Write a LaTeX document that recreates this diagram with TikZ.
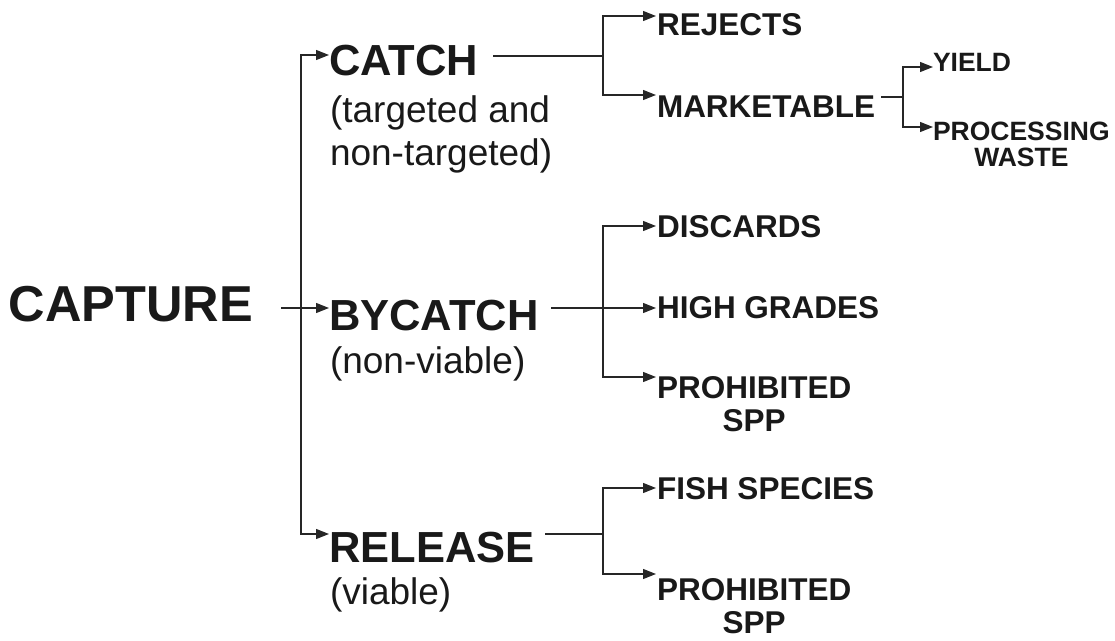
\documentclass[tikz,border=0pt]{standalone}
\usepackage{fontspec}
\setmainfont{Liberation Sans}
\usetikzlibrary{arrows.meta}
\begin{document}
\begin{tikzpicture}[x=1pt,y=-1pt,
  every node/.style={inner sep=0pt,outer sep=0pt,text=black!90},
  lvlzero/.style={anchor=base west,font=\fontsize{50.5}{58}\selectfont\bfseries},
  lvlone/.style={anchor=base west,font=\fontsize{43.5}{50}\selectfont\bfseries},
  subtxt/.style={anchor=base west,font=\fontsize{37}{43}\selectfont},
  lvltwo/.style={anchor=base west,font=\fontsize{31.5}{36}\selectfont\bfseries},
  lvltwoc/.style={anchor=base,font=\fontsize{31.5}{36}\selectfont\bfseries},
  lvlthree/.style={anchor=base west,font=\fontsize{26.5}{30}\selectfont\bfseries},
  lvlthreec/.style={anchor=base,font=\fontsize{26.5}{30}\selectfont\bfseries},
  conn/.style={draw=black!85,line width=1.3pt},
  arr/.style={conn,-{Triangle[length=13pt,width=10pt]}}]
\useasboundingbox (0,0) rectangle (1115,640);

% level 0
\node[lvlzero] (capture) at (9,321) {CAPTURE};
% level 1
\node[lvlone] (catch) at (329,75) {CATCH};
\node[subtxt] (catchs1) at (330,122) {(targeted and};
\node[subtxt] (catchs2) at (330,165) {non-targeted)};
\node[lvlone] (bycatch) at (329,330) {BYCATCH};
\node[subtxt] (bycatchs) at (330,373) {(non-viable)};
\node[lvlone] (release) at (329,562) {RELEASE};
\node[subtxt] (releases) at (330,604) {(viable)};
% level 2
\node[lvltwo] (rejects) at (657,35) {REJECTS};
\node[lvltwo] (market) at (657,117) {MARKETABLE};
\node[lvltwo] (discards) at (657,237) {DISCARDS};
\node[lvltwo] (highgr) at (657,318) {HIGH GRADES};
\node[lvltwo] (prohiba) at (657,398) {PROHIBITED};
\node[lvltwoc] (sppa) at (prohiba.center |- 0,431) {SPP};
\node[lvltwo] (fish) at (657,499) {FISH SPECIES};
\node[lvltwo] (prohibb) at (657,600) {PROHIBITED};
\node[lvltwoc] (sppb) at (prohibb.center |- 0,633) {SPP};
% level 3
\node[lvlthree] (yield) at (933,71) {YIELD};
\node[lvlthree] (proc) at (933,140) {PROCESSING};
\node[lvlthreec] (waste) at (proc.center |- 0,166) {WASTE};

% connector coordinates
\coordinate (capend) at (281,308);
\coordinate (trunk) at (301,308);
\coordinate (tcatch) at (329,55);
\coordinate (tbycatch) at (329,308);
\coordinate (trelease) at (329,534);

\coordinate (catchend) at (493,56);
\coordinate (catchj) at (603,56);
\coordinate (trej) at (656,16);
\coordinate (tmkt) at (656,95);

\coordinate (mktend) at (881,97);
\coordinate (mktj) at (903,97);
\coordinate (tyield) at (933,67);
\coordinate (tproc) at (933,127);

\coordinate (bycend) at (551,308);
\coordinate (bycj) at (603,308);
\coordinate (tdisc) at (656,226);
\coordinate (thigh) at (656,308);
\coordinate (tproa) at (656,377);

\coordinate (relend) at (545,534);
\coordinate (relj) at (603,534);
\coordinate (tfish) at (656,488);
\coordinate (tprob) at (656,574);

% connectors
\draw[arr] (capend) -- (tbycatch);
\draw[arr] (trunk) |- (tcatch);
\draw[arr] (trunk) |- (trelease);

\draw[conn] (catchend) -- (catchj);
\draw[arr] (catchj) |- (trej);
\draw[arr] (catchj) |- (tmkt);

\draw[conn] (mktend) -- (mktj);
\draw[arr] (mktj) |- (tyield);
\draw[arr] (mktj) |- (tproc);

\draw[arr] (bycend) -- (thigh);
\draw[arr] (bycj) |- (tdisc);
\draw[arr] (bycj) |- (tproa);

\draw[conn] (relend) -- (relj);
\draw[arr] (relj) |- (tfish);
\draw[arr] (relj) |- (tprob);
\end{tikzpicture}
\end{document}
